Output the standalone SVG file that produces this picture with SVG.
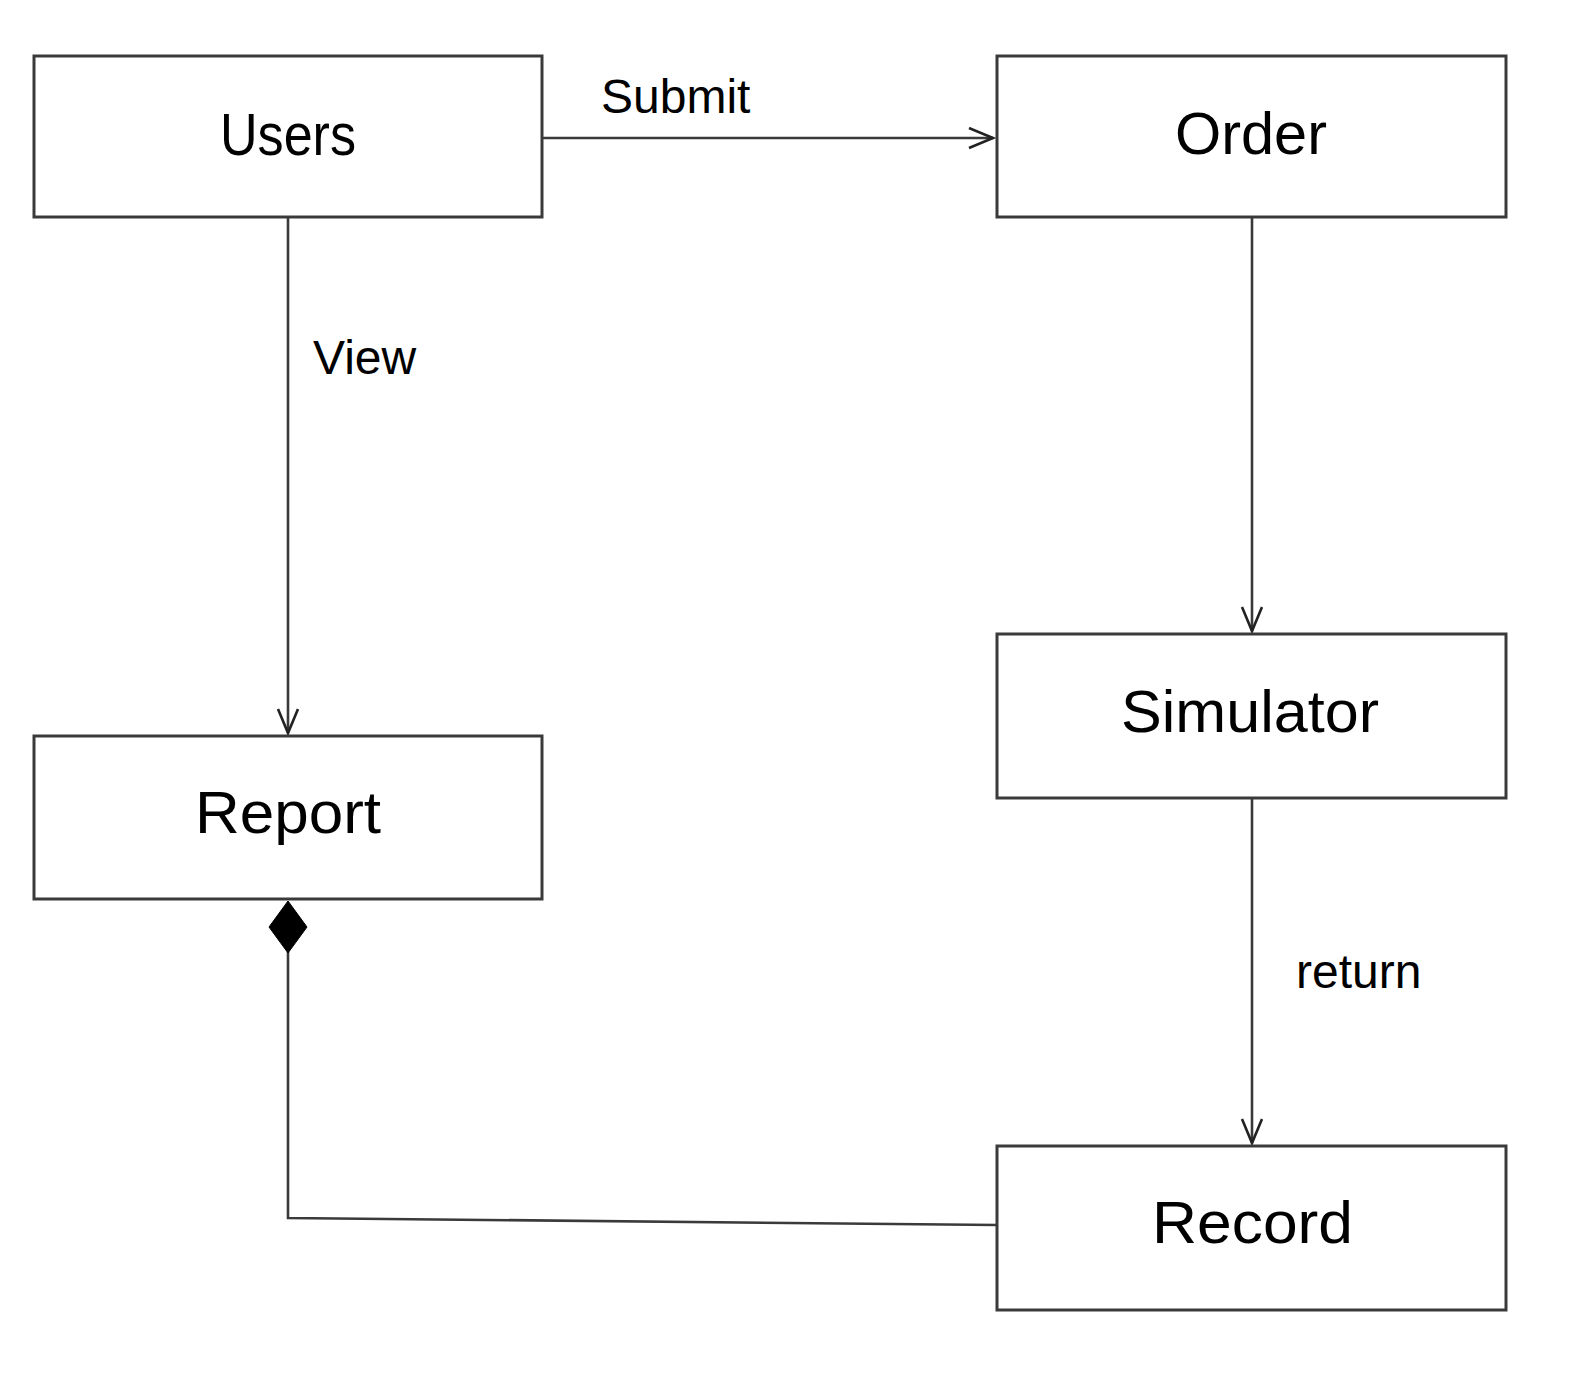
<svg xmlns="http://www.w3.org/2000/svg" width="1584" height="1376" viewBox="0 0 1584 1376">
  <style>
    .box { fill: #ffffff; stroke: #3a3a3a; stroke-width: 3; }
    .name { font-family: "Liberation Sans", Arial, sans-serif; font-size: 60px; fill: #000; text-anchor: start; }
    .lbl { font-family: "Liberation Sans", Arial, sans-serif; font-size: 48px; fill: #000; }
    .edge { fill: none; stroke: #3a3a3a; stroke-width: 2.6; }
  </style>
  <defs>
    <marker id="open" markerUnits="userSpaceOnUse" markerWidth="30" markerHeight="26" refX="25" refY="11" orient="auto">
      <path d="M1,1 L25,11 L1,21" fill="none" stroke="#222" stroke-width="2.6"/>
    </marker>
  </defs>
  <rect width="1584" height="1376" fill="#ffffff"/>

  <g id="connectors">
    <path class="edge" d="M543,138 L993,138" marker-end="url(#open)"/>
    <text class="lbl" x="601" y="113" font-size="49">Submit</text>
    <path class="edge" d="M288,218 L288,733" marker-end="url(#open)"/>
    <text class="lbl" x="313" y="374">View</text>
    <path class="edge" d="M1252,218 L1252,631" marker-end="url(#open)"/>
    <path class="edge" d="M1252,799 L1252,1143" marker-end="url(#open)"/>
    <text class="lbl" x="1296" y="988">return</text>
    <path class="edge" d="M288,952 L288,1218 L997,1225"/>
    <polygon points="288,901 307,927 288,953 269,927" fill="#000" stroke="#000" stroke-width="1"/>
  </g>

  <g id="users">
    <rect class="box" x="34" y="56" width="508" height="161"/>
    <text class="name" x="220" y="155" textLength="136" lengthAdjust="spacingAndGlyphs">Users</text>
  </g>
  <g id="order">
    <rect class="box" x="997" y="56" width="509" height="161"/>
    <text class="name" x="1175" y="154" textLength="152" lengthAdjust="spacingAndGlyphs">Order</text>
  </g>
  <g id="simulator">
    <rect class="box" x="997" y="634" width="509" height="164"/>
    <text class="name" x="1121" y="732" textLength="258" lengthAdjust="spacingAndGlyphs">Simulator</text>
  </g>
  <g id="report">
    <rect class="box" x="34" y="736" width="508" height="163"/>
    <text class="name" x="195" y="833" textLength="186" lengthAdjust="spacingAndGlyphs">Report</text>
  </g>
  <g id="record">
    <rect class="box" x="997" y="1146" width="509" height="164"/>
    <text class="name" x="1152" y="1243" textLength="201" lengthAdjust="spacingAndGlyphs">Record</text>
  </g>
</svg>
